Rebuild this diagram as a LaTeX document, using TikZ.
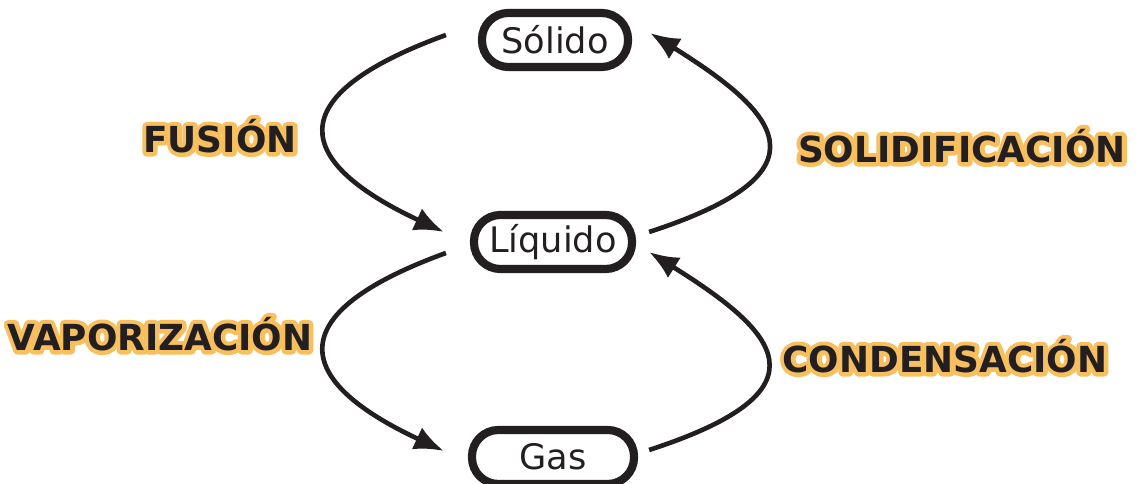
\documentclass[tikz,border=0pt]{standalone}
\usepackage{fontspec}
\setmainfont{DejaVu Sans}
\usetikzlibrary{arrows.meta}

\definecolor{glow}{HTML}{F8BF5E}
\definecolor{ink}{HTML}{231F20}

\tikzset{
  state/.style={draw=ink, line width=5.8pt, rounded corners=0.66cm,
    minimum height=1.35cm, text=ink, font=\fontsize{25}{30}\selectfont},
  flow/.style={-{Latex[length=0.74cm,width=0.6cm]}, draw=ink, line width=3.3pt},
  change/.style={text=ink, font=\bfseries\fontsize{25.5}{30}\selectfont},
}

% stroked (outline only) text in orange, laid under the black label
\newcommand\glowtext[1]{%
  \special{pdf:code q 1 Tr 6 w 1 j 0.973 0.749 0.369 RG}#1\special{pdf:code Q}}
\newcommand\changelabel[3]{%
  \node[change] at (#2) {\glowtext{#3}};
  \node[change] (#1) at (#2) {#3};}

\begin{document}
\begin{tikzpicture}[x=0.025cm, y=0.025cm]
  \useasboundingbox (0,0) rectangle (1140,484);

  % states of matter
  \node[state, minimum width=3.65cm] (solido)  at (555,444) {Sólido};
  \node[state, minimum width=3.95cm] (liquido) at (553,242) {Líquido};
  \node[state, minimum width=4.05cm] (gas)     at (553,27)  {Gas};

  % changes of state
  \draw[flow] ([shift={(-32,5)}]solido.west)
    .. controls +(200:180) and +(155:165) .. ([shift={(-26,10)}]liquido.west);
  \draw[flow] ([shift={(13,10)}]liquido.east)
    .. controls +(18:195) and +(-32:150) .. ([shift={(18,7)}]solido.east);
  \draw[flow] ([shift={(-24,-11)}]liquido.west)
    .. controls +(200:180) and +(155:165) .. ([shift={(-24,6)}]gas.west);
  \draw[flow] ([shift={(11,7)}]gas.east)
    .. controls +(18:195) and +(-32:150) .. ([shift={(13,-10)}]liquido.east);

  \changelabel{fusion}{220,348}{FUSIÓN}
  \changelabel{solidificacion}{962,338}{SOLIDIFICACIÓN}
  \changelabel{vaporizacion}{160,150}{VAPORIZACIÓN}
  \changelabel{condensacion}{945,128}{CONDENSACIÓN}
\end{tikzpicture}
\end{document}
